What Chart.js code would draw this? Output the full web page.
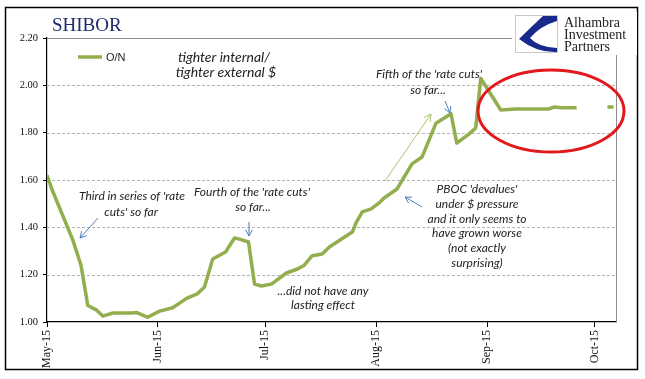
<!DOCTYPE html>
<html><head><meta charset="utf-8">
<script src="https://cdn.jsdelivr.net/npm/chart.js@4.4.1/dist/chart.umd.min.js"></script>
<style>html,body{margin:0;padding:0;background:#fff}#wrap{width:645px;height:379px}</style>
</head><body><div id="wrap"><canvas id="c" width="645" height="379"></canvas></div>
<script>
// Days since 1 May 2015
const days = [0,1.4,7.2,9.5,11.4,13.9,15.6,18.4,23.7,25.1,28.1,31.5,35.1,39,42.1,44,46.3,49.9,52.4,53.8,56.3,58,59.9,62.7,66.9,70,71.9,74.1,76.9,78.9,85.3,86.4,88.1,90.6,92.8,94.2,97.8,102,104.8,108.7,112.9,114.5,117.9,119.8,121.2,126.8,131,140.2,141.6,143.8,148,152,156.6,158.3];
const onValues = [1.62,1.56,1.347,1.24,1.07,1.05,1.025,1.038,1.038,1.04,1.02,1.046,1.06,1.10,1.12,1.148,1.266,1.296,1.355,1.35,1.338,1.16,1.152,1.16,1.207,1.224,1.24,1.28,1.287,1.317,1.38,1.42,1.465,1.478,1.503,1.524,1.562,1.668,1.697,1.84,1.88,1.756,1.794,1.82,2.03,1.896,1.90,1.90,1.908,1.905,1.905,null,1.908,1.908];
const tickDays = [0,31,61,92,123,153];
const tickLabels = ['May-15','Jun-15','Jul-15','Aug-15','Sep-15','Oct-15'];
const yTicks = [1.0,1.2,1.4,1.6,1.8,2.0,2.2];

const GREEN = '#92ae4e';
const BLUE = '#4a7ebb';
const ANN = 'italic 12px Lato, "Open Sans", sans-serif';

function arrow(ctx, x1, y1, x2, y2, color, head) {
  ctx.save();
  ctx.strokeStyle = color; ctx.lineWidth = 1;
  ctx.beginPath(); ctx.moveTo(x1, y1); ctx.lineTo(x2, y2); ctx.stroke();
  const a = Math.atan2(y2 - y1, x2 - x1), h = head || 7;
  ctx.beginPath();
  ctx.moveTo(x2 - h * Math.cos(a - 0.5), y2 - h * Math.sin(a - 0.5));
  ctx.lineTo(x2, y2);
  ctx.lineTo(x2 - h * Math.cos(a + 0.5), y2 - h * Math.sin(a + 0.5));
  ctx.stroke();
  ctx.restore();
}
function txt(ctx, s, x, y, font, color, align) {
  ctx.save(); ctx.font = font; ctx.fillStyle = color || '#222';
  ctx.textAlign = align || 'center'; ctx.textBaseline = 'alphabetic';
  ctx.fillText(s, x, y); ctx.restore();
}

const deco = {
  id: 'deco',
  beforeDatasetsDraw(chart) {
    const ctx = chart.ctx, a = chart.chartArea, y = chart.scales.y;
    ctx.save();
    ctx.strokeStyle = '#8c8c8c'; ctx.lineWidth = 1;
    ctx.beginPath();
    ctx.moveTo(a.left, Math.round(y.getPixelForValue(2.2)) + 0.5);
    ctx.lineTo(Math.round(a.right) + 0.5, Math.round(y.getPixelForValue(2.2)) + 0.5);
    ctx.lineTo(Math.round(a.right) + 0.5, a.bottom);
    ctx.stroke();
    ctx.strokeStyle = '#b4b4b4'; ctx.setLineDash([3, 2]);
    yTicks.slice(1, -1).forEach(v => {
      const py = Math.round(y.getPixelForValue(v)) + 0.5;
      ctx.beginPath(); ctx.moveTo(a.left, py); ctx.lineTo(a.right, py); ctx.stroke();
    });
    ctx.restore();
  },
  afterDraw(chart) {
    const ctx = chart.ctx;
    ctx.save();
    ctx.strokeStyle = '#000'; ctx.lineWidth = 1.5;
    ctx.strokeRect(5.5, 7.5, 632, 362);
    txt(ctx, 'SHIBOR', 52, 31, '19px "Liberation Serif", serif', '#1f2a6e', 'left');
    ctx.strokeStyle = GREEN; ctx.lineWidth = 3.5;
    ctx.beginPath(); ctx.moveTo(78, 57); ctx.lineTo(102, 57); ctx.stroke();
    ctx.font = '11px "Liberation Sans", Arial, sans-serif'; ctx.fillStyle = '#222';
    ctx.textBaseline = 'middle'; ctx.textAlign = 'left'; ctx.fillText('O/N', 106, 57.5);
    // logo
    ctx.fillStyle = '#fff'; ctx.fillRect(512, 12, 125, 43);
    ctx.strokeStyle = '#c8c8c8'; ctx.lineWidth = 1; ctx.strokeRect(515.5, 15.5, 42, 37);
    ctx.fillStyle = '#1a2a8c';
    ctx.beginPath();
    ctx.moveTo(557, 16); ctx.lineTo(543, 16);
    ctx.quadraticCurveTo(531, 27, 519, 39);
    ctx.quadraticCurveTo(537, 53, 557, 52);
    ctx.lineTo(557, 48);
    ctx.quadraticCurveTo(538, 47, 530, 38);
    ctx.quadraticCurveTo(540, 26, 557, 21);
    ctx.closePath(); ctx.fill();
    const lf = '14px "Liberation Serif", serif';
    txt(ctx, 'Alhambra', 564, 27, lf, '#222', 'left');
    txt(ctx, 'Investment', 564, 39, lf, '#222', 'left');
    txt(ctx, 'Partners', 564, 51, lf, '#222', 'left');
    // annotations
    const big = 'italic 14px Lato, "Open Sans", sans-serif';
    txt(ctx, 'tighter internal/', 224, 62, big);
    txt(ctx, 'tighter external $', 226, 77, big);
    txt(ctx, "Third in series of 'rate", 132, 200, ANN);
    txt(ctx, "cuts' so far", 131, 216, ANN);
    txt(ctx, "Fourth of the 'rate cuts'", 252, 196, ANN);
    txt(ctx, 'so far...', 253, 211, ANN);
    txt(ctx, '...did not have any', 323, 295, ANN);
    txt(ctx, 'lasting effect', 323, 309, ANN);
    txt(ctx, "Fifth of the 'rate cuts'", 429, 78, ANN);
    txt(ctx, 'so far...', 428, 94, ANN);
    const pb = ["PBOC 'devalues'", 'under $ pressure', 'and it only seems to', 'have grown worse', '(not exactly', 'surprising)'];
    pb.forEach((s, i) => txt(ctx, s, 477, 193 + i * 14.8, ANN));
    arrow(ctx, 98, 218, 80, 238, BLUE);
    arrow(ctx, 249, 222, 249, 236, BLUE);
    arrow(ctx, 422, 207, 405, 197, BLUE);
    arrow(ctx, 445, 101, 450, 113, BLUE);
    arrow(ctx, 385, 181, 431, 114, '#a9c46e', 8);
    ctx.strokeStyle = '#e3181d'; ctx.lineWidth = 3;
    ctx.beginPath(); ctx.ellipse(551, 111, 73, 41, 0, 0, Math.PI * 2); ctx.stroke();
    ctx.restore();
  }
};

new Chart(document.getElementById('c'), {
  type: 'line',
  data: { datasets: [{
    label: 'O/N',
    data: days.map((d, i) => ({ x: d, y: onValues[i] })),
    borderColor: GREEN, borderWidth: 3.5, pointRadius: 0, tension: 0,
    spanGaps: false, fill: false, borderJoinStyle: 'round'
  }]},
  options: {
    responsive: false, animation: false, events: [],
    layout: { padding: { left: 0, top: 38, right: 29, bottom: 0 } },
    plugins: { legend: { display: false }, tooltip: { enabled: false } },
    scales: {
      x: {
        type: 'linear', min: 0, max: 159,
        afterBuildTicks: s => { s.ticks = tickDays.map(v => ({ value: v })); },
        afterFit: s => { s.height = 57; },
        ticks: {
          autoSkip: false, maxRotation: 90, minRotation: 90, padding: 3,
          color: '#111', font: { family: '"Liberation Serif", serif', size: 12 },
          callback: (v) => { const i = tickDays.indexOf(v); return i >= 0 ? tickLabels[i] : ''; }
        },
        grid: { drawOnChartArea: false, drawTicks: true, tickLength: 5, tickColor: '#000' },
        border: { color: '#000', width: 1.2 }
      },
      y: {
        min: 1, max: 2.2,
        afterBuildTicks: s => { s.ticks = yTicks.map(v => ({ value: v })); },
        afterFit: s => { s.width = 47; },
        ticks: {
          padding: 5, color: '#111', font: { family: '"Liberation Serif", serif', size: 10.5 },
          callback: v => Number(v).toFixed(2)
        },
        grid: { drawOnChartArea: false, drawTicks: true, tickLength: 4, tickColor: '#000' },
        border: { color: '#000', width: 1.2 }
      }
    }
  },
  plugins: [deco]
});
</script></body></html>
